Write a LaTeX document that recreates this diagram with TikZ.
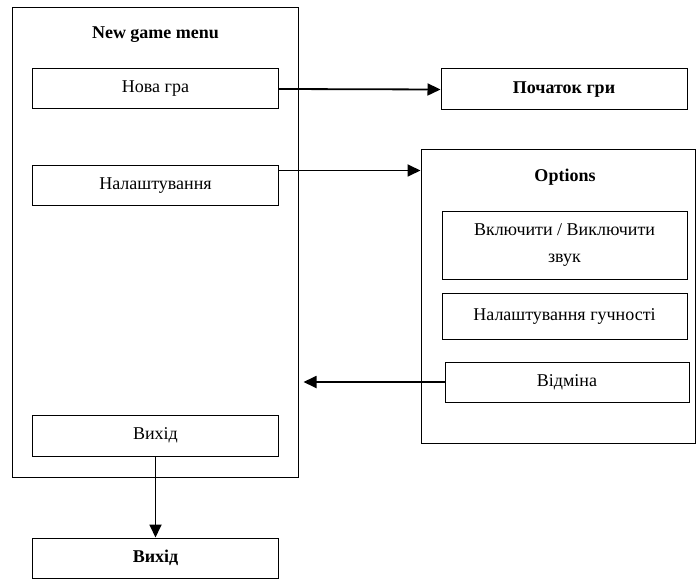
\documentclass[tikz,border=0pt]{standalone}
\usepackage{fontspec}
\setmainfont{Liberation Serif}
\usetikzlibrary{arrows.meta,calc}
\begin{document}
\begin{tikzpicture}[x=1bp,y=-1bp,
  box/.style={draw,line width=1bp,inner sep=0pt,align=center,font=\fontsize{18bp}{21bp}\selectfont},
  ttl/.style={font=\bfseries\fontsize{18bp}{21bp}\selectfont,inner sep=0pt},
  arr/.style={line width=1.8bp,-{Triangle[length=13bp,width=12bp]}}]
\useasboundingbox (0,0) rectangle (696,579);
\node[box,minimum width=285bp,minimum height=469bp] (menu) at (155.5,242.5) {};
\node[ttl] (mtitle) at (155.5,35) {New game menu};
\node[box,minimum width=245bp,minimum height=40bp] (nova) at (155.5,89) {Нова гра};
\node[box,minimum width=245bp,minimum height=39bp] (nal) at (155.5,185.5) {Налаштування};
\node[box,minimum width=245bp,minimum height=41bp] (vyh) at (155.5,435.5) {Вихід};
\node[box,minimum width=245bp,minimum height=40bp,font=\bfseries\fontsize{18bp}{21bp}\selectfont] (vyh2) at (155.5,558) {Вихід};
\node[box,minimum width=246bp,minimum height=41bp,font=\bfseries\fontsize{18bp}{21bp}\selectfont] (start) at (564,89.5) {Початок гри};
\node[box,minimum width=274bp,minimum height=293bp] (opt) at (558,296.5) {};
\node[ttl] (otitle) at (565,177) {Options};
\node[box,minimum width=245bp,minimum height=67bp,font=\fontsize{18bp}{27bp}\selectfont] (snd) at (564.5,245.5) {Включити / Виключити\\звук};
\node[box,minimum width=245bp,minimum height=46bp] (vol) at (564.5,316) {Налаштування гучності};
\node[box,minimum width=244bp,minimum height=40bp] (cancel) at (567,382) {Відміна};
\coordinate (nalout) at ($(nal.north east)+(0,5)$);
\coordinate (back) at ($(menu.east |- cancel.west)+(5,0)$);
\draw[arr] (nova.east) -- (start.west);
\draw[arr] (nalout) -- (opt.west |- nalout);
\draw[arr] (cancel.west) -- (back);
\draw[arr] (vyh.south) -- (vyh2.north);
\end{tikzpicture}
\end{document}
